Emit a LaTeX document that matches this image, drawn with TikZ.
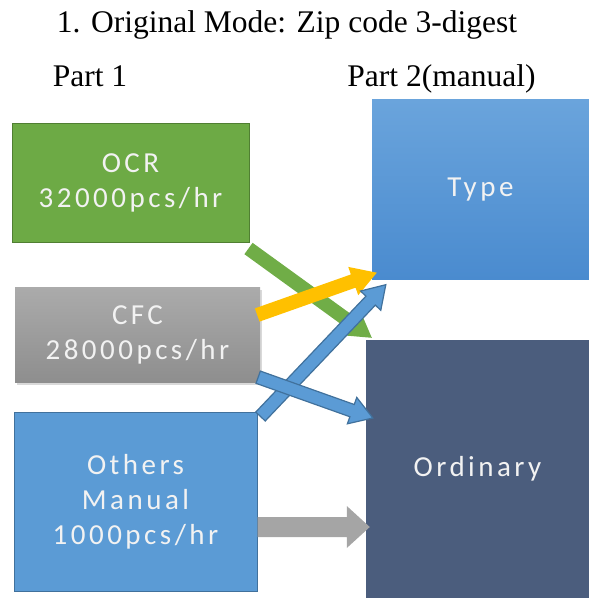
\documentclass[tikz,border=0pt]{standalone}
\usepackage{fontspec}
\setmainfont{Liberation Serif}
\newfontfamily\boxfont[LetterSpace=12]{Carlito}
\usetikzlibrary{calc,shadows}

\definecolor{ocrgreen}{HTML}{6DAA45}
\definecolor{ocredge}{HTML}{507F32}
\definecolor{cfctop}{HTML}{ABABAB}
\definecolor{cfcbot}{HTML}{8E8E8E}
\definecolor{manblue}{HTML}{5B9BD5}
\definecolor{manedge}{HTML}{41719C}
\definecolor{typetop}{HTML}{6AA4DC}
\definecolor{typebot}{HTML}{4A8BCF}
\definecolor{ordfill}{HTML}{4B5D7D}
\definecolor{arrgreen}{HTML}{70AD47}
\definecolor{arryellow}{HTML}{FFC000}
\definecolor{arrgray}{HTML}{A5A5A5}
\definecolor{boxtext}{HTML}{F2F2F2}

% block arrow: style, tail, tip, shaft half width, head half width, head length
\newcommand\blockarrow[6]{%
  \coordinate (ba) at ($(#3)!#6!(#2)$);
  \path[#1] ($(#2)!#4!90:(#3)$) -- ($(ba)!#4!-90:(#2)$) -- ($(ba)!#5!-90:(#2)$)
    -- (#3) -- ($(ba)!#5!90:(#2)$) -- ($(ba)!#4!90:(#2)$) -- ($(#2)!#4!-90:(#3)$) -- cycle;
}

\tikzset{
  blk/.style={rectangle, inner sep=0pt, text=boxtext, align=center,
    font=\boxfont\fontsize{29}{35}\selectfont},
  heading/.style={anchor=base, inner sep=0pt, font=\fontsize{31.5}{36}\selectfont},
  greenarrow/.style={fill=arrgreen},
  yellowarrow/.style={fill=arryellow},
  bluearrow/.style={fill=manblue, draw=manedge, line width=1.2pt, line join=miter},
  grayarrow/.style={fill=arrgray},
}

\begin{document}
\begin{tikzpicture}[x=1pt, y=-1pt]
  \useasboundingbox (0,0) rectangle (589,598);

  % headings
  \node[heading] (title) at (287,32) {1. Original Mode: Zip code 3-digest};
  \node[heading] (part1) at (90,86) {Part 1};
  \node[heading] (part2) at (441.5,86) {Part 2(manual)};

  % part 1 sources
  \node[blk, fill=ocrgreen, draw=ocredge, line width=1pt,
        minimum width=237pt, minimum height=119pt] (ocr) at (130.5,182.5)
        {OCR\\32000pcs/hr};
  \node[blk, top color=cfctop, bottom color=cfcbot,
        drop shadow={shadow xshift=2pt, shadow yshift=-3pt, opacity=0.3},
        minimum width=245pt, minimum height=95pt] (cfc) at (137.5,334.5)
        {CFC\\28000pcs/hr};
  \node[blk, fill=manblue, draw=manedge, line width=1pt,
        minimum width=243pt, minimum height=179pt] (others) at (135.5,501.5)
        {Others\\Manual\\1000pcs/hr};

  % part 2 targets
  \node[blk, top color=typetop, bottom color=typebot,
        minimum width=217pt, minimum height=180pt] (type) at (480.5,189.5)
        {Type};
  \node[blk, fill=ordfill,
        minimum width=223pt, minimum height=258pt] (ordinary) at (477.5,469)
        {Ordinary};

  % arrow end points
  \coordinate (g0) at ($(ocr.south east)+(-1,6)$);
  \coordinate (g1) at ($(ordinary.north west)+(6,-2)$);
  \coordinate (y0) at ($(cfc.east)+(-3,-19.5)$);
  \coordinate (y1) at ($(type.south west)+(5,-7)$);
  \coordinate (b10) at ($(others.north east)+(3,5)$);
  \coordinate (b11) at ($(type.south west)+(14,5)$);
  \coordinate (b20) at ($(cfc.south east)+(-2,-5)$);
  \coordinate (b21) at ($(ordinary.west)+(7,-51)$);
  \coordinate (r0) at ($(others.east)+(0,25.5)$);
  \coordinate (r1) at ($(ordinary.west)+(4,58)$);

  % flows
  \blockarrow{greenarrow}{g0}{g1}{7pt}{15pt}{25pt}
  \blockarrow{yellowarrow}{y0}{y1}{7pt}{15pt}{25pt}
  \blockarrow{bluearrow}{b10}{b11}{6.5pt}{14pt}{22pt}
  \blockarrow{bluearrow}{b20}{b21}{6.5pt}{14pt}{22pt}
  \blockarrow{grayarrow}{r0}{r1}{10pt}{21pt}{23pt}
\end{tikzpicture}
\end{document}
